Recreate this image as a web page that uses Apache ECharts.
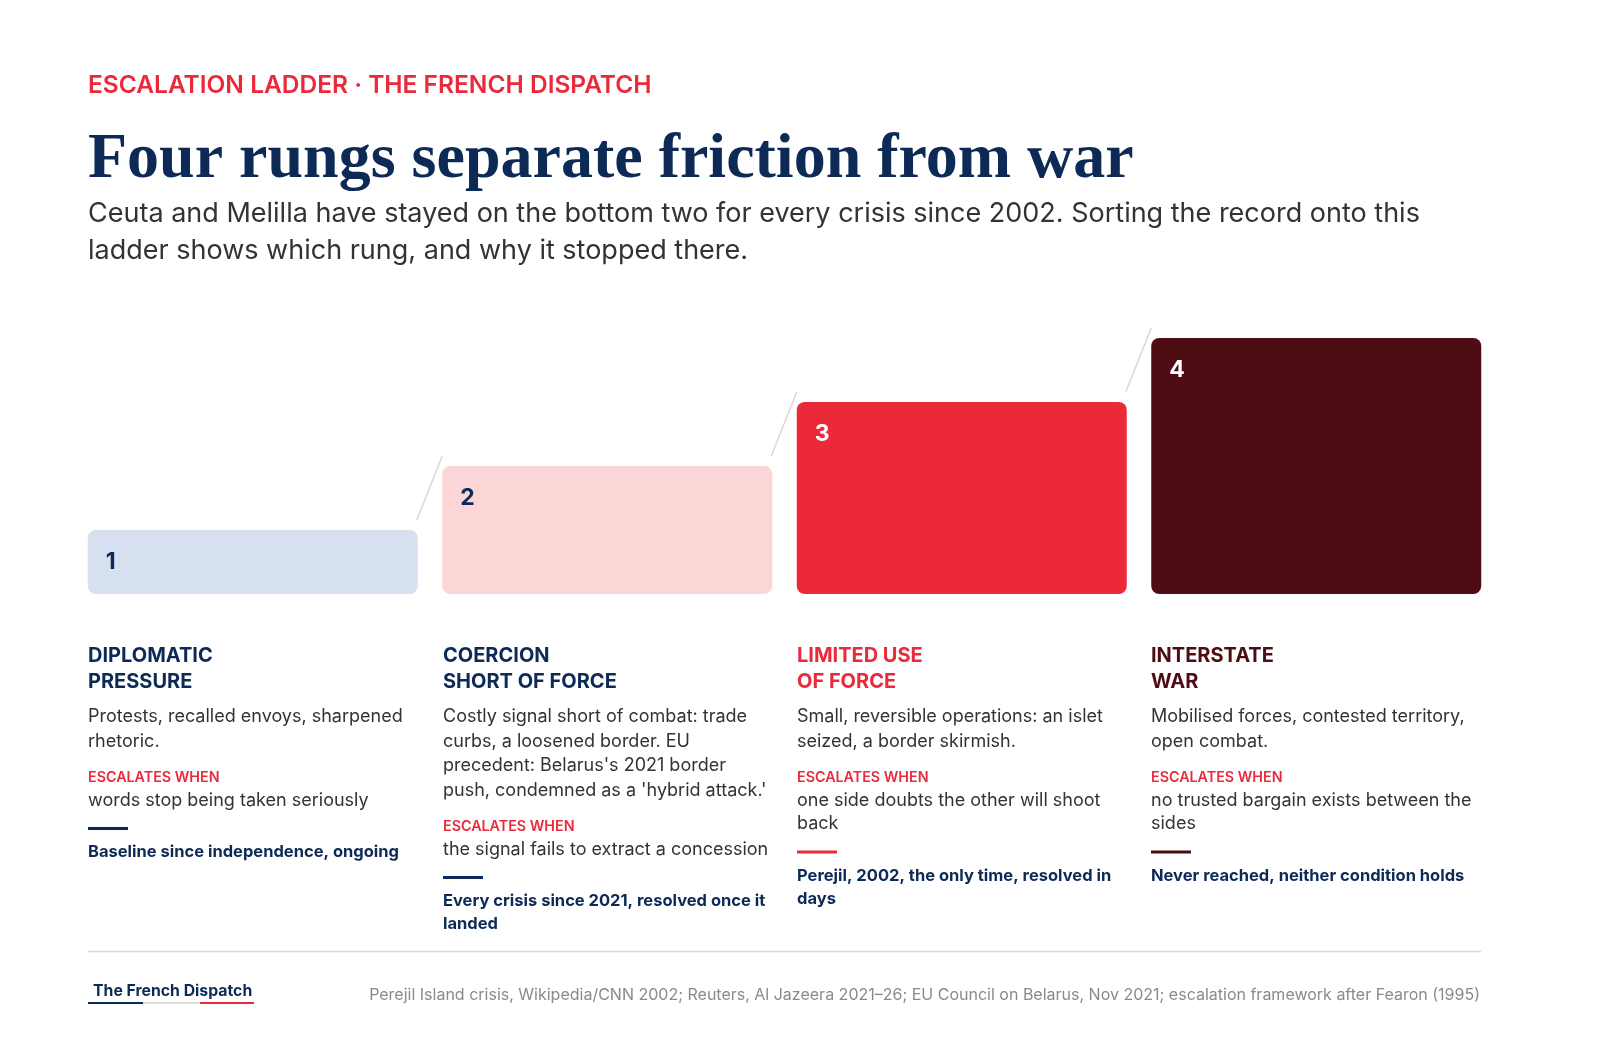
<!DOCTYPE html>
<html>
<head>
<meta charset="utf-8">
<script src="https://cdn.jsdelivr.net/npm/echarts@6/dist/echarts.min.js"></script>
<style>
  html, body { margin: 0; padding: 0; background: #fff; }
  #chart { width: 1600px; height: 1060px; }
</style>
</head>
<body>
<div id="chart"></div>
<script>
// rungs of the ladder
const rungs = ['1', '2', '3', '4']
const rungValues = [1, 2, 3, 4]
const headings = [
  ['DIPLOMATIC', 'PRESSURE'],
  ['COERCION', 'SHORT OF FORCE'],
  ['LIMITED USE', 'OF FORCE'],
  ['INTERSTATE', 'WAR']
]
const descriptions = [
  ['Protests, recalled envoys, sharpened', 'rhetoric.'],
  ['Costly signal short of combat: trade', 'curbs, a loosened border. EU', "precedent: Belarus's 2021 border", "push, condemned as a 'hybrid attack.'"],
  ['Small, reversible operations: an islet', 'seized, a border skirmish.'],
  ['Mobilised forces, contested territory,', 'open combat.']
]
const triggers = [
  ['words stop being taken seriously'],
  ['the signal fails to extract a concession'],
  ['one side doubts the other will shoot', 'back'],
  ['no trusted bargain exists between the', 'sides']
]
const notes = [
  ['Baseline since independence, ongoing'],
  ['Every crisis since 2021, resolved once it', 'landed'],
  ['Perejil, 2002, the only time, resolved in', 'days'],
  ['Never reached, neither condition holds']
]

const NAVY = '#0c2a55'
const RED = '#ea2a3b'
const MAROON = '#4e0d14'
const barColors = ['#d6e0ee', '#fcd6d6', '#ec2939', '#4e0d14']
const numColors = [NAVY, NAVY, '#ffffff', '#ffffff']
const accent = [NAVY, NAVY, RED, MAROON]
const colX = [88, 443, 797, 1151]
const SANS = 'Inter, "Noto Sans", sans-serif'

const chart = echarts.init(document.getElementById('chart'))

function txt(x, y, text, font, fill, align) {
  return {
    type: 'text',
    x: x, y: y,
    style: { text: text, font: font, fill: fill, textAlign: align || 'left', textVerticalAlign: 'middle' }
  }
}

let graphics = [
  txt(88, 86, 'ESCALATION LADDER · THE FRENCH DISPATCH', '600 24.5px ' + SANS, RED),
  txt(88, 160, 'Four rungs separate friction from war', 'bold 64px "Liberation Serif", serif', NAVY),
  txt(88, 214, 'Ceuta and Melilla have stayed on the bottom two for every crisis since 2002. Sorting the record onto this', '400 27px ' + SANS, '#333333'),
  txt(88, 251, 'ladder shows which rung, and why it stopped there.', '400 27px ' + SANS, '#333333')
]

// text columns under each rung
rungs.forEach((r, i) => {
  const x = colX[i]
  let y = 656
  headings[i].forEach((line, j) => {
    graphics.push(txt(x, y + j * 26, line, 'bold 20px ' + SANS, accent[i]))
  })
  y = 717
  descriptions[i].forEach((line, j) => {
    graphics.push(txt(x, y + j * 24.5, line, '400 18px ' + SANS, '#333333'))
  })
  y = y + (descriptions[i].length - 1) * 24.5 + 36
  graphics.push(txt(x, y, 'ESCALATES WHEN', '600 14.3px ' + SANS, RED))
  y += 23
  triggers[i].forEach((line, j) => {
    graphics.push(txt(x, y + j * 23.5, line, '400 18px ' + SANS, '#333333'))
  })
  y = y + (triggers[i].length - 1) * 23.5 + 28
  graphics.push({
    type: 'rect',
    shape: { x: x, y: y - 1.5, width: 40, height: 3 },
    style: { fill: accent[i] }
  })
  y += 24
  notes[i].forEach((line, j) => {
    graphics.push(txt(x, y + j * 23, line, 'bold 16.5px ' + SANS, NAVY))
  })
})

// footer
graphics.push({
  type: 'line',
  shape: { x1: 88, y1: 951.5, x2: 1481, y2: 951.5 },
  style: { stroke: '#dcd8d2', lineWidth: 1.5 }
})
graphics.push(txt(93, 991, 'The French Dispatch', 'bold 15.8px ' + SANS, NAVY))
graphics.push({ type: 'rect', shape: { x: 88, y: 1002, width: 55, height: 2 }, style: { fill: NAVY } })
graphics.push({ type: 'rect', shape: { x: 143, y: 1002, width: 57, height: 2 }, style: { fill: '#dddddd' } })
graphics.push({ type: 'rect', shape: { x: 200, y: 1002, width: 54, height: 2 }, style: { fill: RED } })
graphics.push(txt(1480, 995, 'Perejil Island crisis, Wikipedia/CNN 2002; Reuters, Al Jazeera 2021–26; EU Council on Belarus, Nov 2021; escalation framework after Fearon (1995)', '400 16px ' + SANS, '#8a8a8a', 'right'))

const BAR_W = 330

const option = {
  animation: false,
  backgroundColor: '#ffffff',
  grid: { left: 75.5, right: 106.5, top: 306, bottom: 466 },
  xAxis: {
    type: 'category',
    data: rungs,
    show: false
  },
  yAxis: {
    type: 'value',
    min: 0,
    max: 4.5,
    show: false
  },
  graphic: graphics,
  series: [{
    type: 'bar',
    barWidth: BAR_W,
    data: rungValues.map((v, i) => ({
      value: v,
      itemStyle: { color: barColors[i], borderRadius: 8 },
      label: { color: numColors[i] }
    })),
    label: {
      show: true,
      position: [18, 21],
      formatter: p => rungs[p.dataIndex],
      fontFamily: SANS,
      fontWeight: 'bold',
      fontSize: 23
    },
    silent: true
  }, {
    // thin connectors between the rungs
    type: 'custom',
    data: rungValues.slice(0, -1).map((v, i) => [i, v, rungValues[i + 1]]),
    renderItem: (params, api) => {
      const i = api.value(0)
      const p1 = api.coord([i, api.value(1)])
      const p2 = api.coord([i + 1, api.value(2)])
      return {
        type: 'line',
        shape: { x1: p1[0] + BAR_W / 2 - 1, y1: p1[1] - 10, x2: p2[0] - BAR_W / 2, y2: p2[1] - 10 },
        style: { stroke: '#dcd8d2', lineWidth: 1.5 }
      }
    },
    silent: true
  }]
}

chart.setOption(option)
</script>
</body>
</html>
